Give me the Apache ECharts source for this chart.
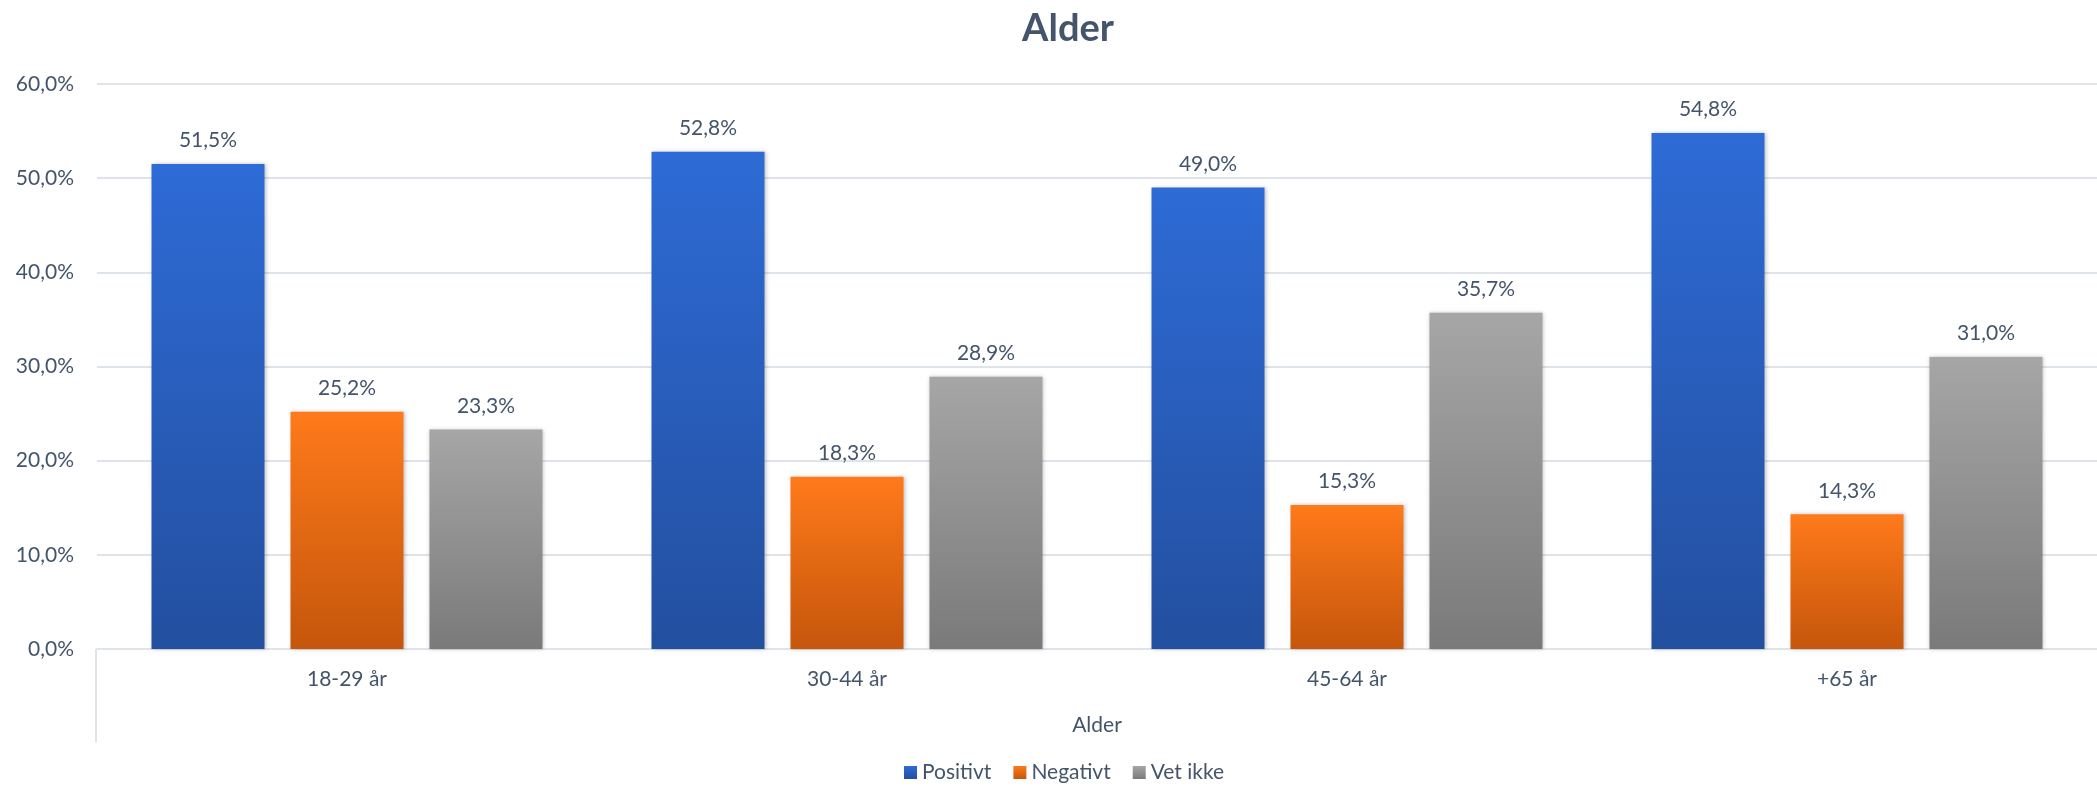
<!DOCTYPE html>
<html>
<head>
<meta charset="utf-8">
<script src="https://cdn.jsdelivr.net/npm/echarts@6/dist/echarts.min.js"></script>
<style>
  html, body { margin: 0; padding: 0; background: #fff; }
  #chart { width: 2097px; height: 791px; }
</style>
</head>
<body>
<div id="chart"></div>
<script>
const categories = ['18-29 år', '30-44 år', '45-64 år', '+65 år']
const positivt = [51.5, 52.8, 49.0, 54.8]
const negativt = [25.2, 18.3, 15.3, 14.3]
const vetIkke = [23.3, 28.9, 35.7, 31.0]
const yTicks = [0, 10, 20, 30, 40, 50, 60]

const textColor = '#44546a'
const font = 'Lato'
const fs = 21

function grad(top, bottom) {
  return new echarts.graphic.LinearGradient(0, 0, 0, 1, [
    { offset: 0, color: top },
    { offset: 1, color: bottom },
  ])
}

function pct(v) {
  return v.toFixed(1).replace('.', ',') + '%'
}

const myChart = echarts.init(document.getElementById('chart'))

function barSeries(name, data, top, bottom) {
  return {
    name: name,
    type: 'bar',
    data: data,
    barWidth: 113,
    barGap: '23%',
    itemStyle: {
      color: grad(top, bottom),
      shadowColor: 'rgba(0,0,0,0.25)',
      shadowBlur: 4,
      shadowOffsetX: 1,
    },
    label: {
      show: true,
      position: 'top',
      distance: 13,
      color: textColor,
      fontFamily: font,
      fontSize: fs,
      formatter: (p) => pct(p.value),
    },
  }
}

const option = {
  animation: false,
  textStyle: { fontFamily: font },
  title: {
    text: 'Alder',
    left: 1063,
    textAlign: 'center',
    top: 5,
    textStyle: {
      color: textColor,
      fontFamily: font,
      fontSize: 38,
      fontWeight: 'bold',
    },
  },
  legend: {
    data: [
      { name: 'Positivt', itemStyle: { color: grad('#2e6bd6', '#234f9f') } },
      { name: 'Negativt', itemStyle: { color: grad('#ff7a1a', '#c5560c') } },
      { name: 'Vet ikke', itemStyle: { color: grad('#a6a6a6', '#7a7a7a') } },
    ],
    bottom: 3,
    left: 899,
    icon: 'rect',
    itemWidth: 13,
    itemHeight: 13,
    itemGap: 22,
    textStyle: { color: textColor, fontFamily: font, fontSize: fs },
  },
  grid: {
    left: 97,
    right: -6,
    top: 84,
    bottom: 142,
  },
  xAxis: {
    type: 'category',
    data: categories,
    name: 'Alder',
    nameLocation: 'middle',
    nameGap: 66,
    nameTextStyle: { color: textColor, fontFamily: font, fontSize: fs },
    axisLine: { lineStyle: { color: '#dfe3ea', width: 2 } },
    axisTick: { show: false },
    axisLabel: { color: textColor, fontFamily: font, fontSize: fs, margin: 20 },
  },
  yAxis: {
    type: 'value',
    min: yTicks[0],
    max: yTicks[yTicks.length - 1],
    interval: 10,
    axisLine: { show: false },
    axisTick: { show: false },
    splitLine: { lineStyle: { color: '#dfe3ea', width: 2 } },
    axisLabel: {
      color: textColor,
      fontFamily: font,
      fontSize: fs,
      margin: 23,
      formatter: (v) => pct(v),
    },
  },
  graphic: [
    {
      type: 'line',
      shape: { x1: 96, y1: 649, x2: 96, y2: 742 },
      style: { stroke: '#dfe3ea', lineWidth: 2 },
    },
  ],
  series: [
    barSeries('Positivt', positivt, '#2e6bd6', '#234f9f'),
    barSeries('Negativt', negativt, '#ff7a1a', '#c5560c'),
    barSeries('Vet ikke', vetIkke, '#a6a6a6', '#7a7a7a'),
  ],
}

myChart.setOption(option)
</script>
</body>
</html>
